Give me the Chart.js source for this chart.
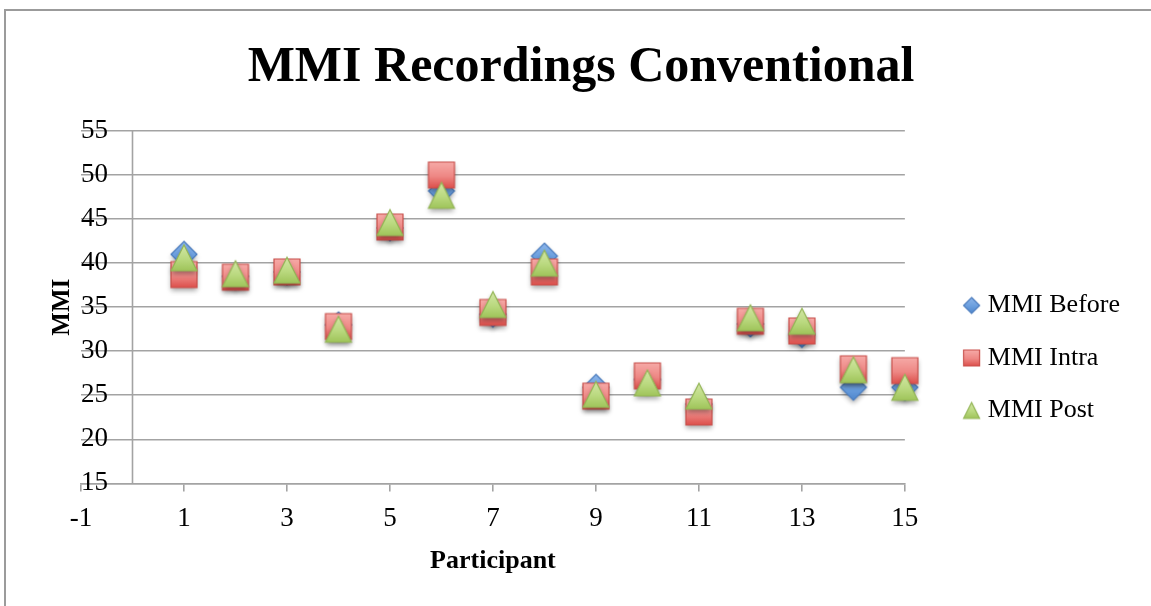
<!DOCTYPE html>
<html>
<head>
<meta charset="utf-8">
<title>MMI Recordings Conventional</title>
<script src="https://cdn.jsdelivr.net/npm/chart.js@4.4.1/dist/chart.umd.min.js"></script>
<style>
  html, body { margin: 0; padding: 0; background: #ffffff; }
  #wrap { position: relative; width: 1151px; height: 606px; overflow: hidden; }
  #frame {
    position: absolute; left: 4px; top: 9px; width: 1300px; height: 800px;
    border-left: 2px solid #9b9b9b; border-top: 2px solid #9b9b9b;
    pointer-events: none;
  }
  canvas { display: block; }
</style>
</head>
<body>
<div id="wrap">
  <canvas id="chart" width="1151" height="606"></canvas>
  <div id="frame"></div>
</div>
<script>
// Participant numbers and MMI readings per phase
const participants = [1, 2, 3, 4, 5, 6, 7, 8, 9, 10, 11, 12, 13, 14, 15];
const mmiBefore = [41.0, 38.5, 39.0, 33.0, 44.0, 48.2, 34.2, 40.8, 25.9, 26.8, 24.0, 33.1, 31.9, 25.9, 25.9];
const mmiIntra  = [38.7, 38.4, 39.0, 32.8, 44.1, 50.0, 34.4, 39.0, 24.9, 27.2, 23.1, 33.4, 32.3, 28.0, 27.8];
const mmiPost   = [40.6, 38.8, 39.2, 32.5, 44.6, 47.7, 35.3, 40.0, 25.1, 26.4, 24.9, 33.8, 33.4, 27.9, 25.9];

const seriesNames = ['MMI Before', 'MMI Intra', 'MMI Post'];
const xRange = [-1, 15];
const yRange = [15, 55];

const FONT = "'Liberation Serif', 'Times New Roman', serif";

// Marker artwork: gradient-filled shape with a thin outline and soft drop shadow
function makeMarker(shape, size, opts) {
  const pad = opts.shadow ? 8 : 2;
  const w = (opts.canvasWidth || size + pad * 2);
  const h = size + pad * 2;
  const c = document.createElement('canvas');
  c.width = w; c.height = h;
  const ctx = c.getContext('2d');
  const cx = opts.canvasWidth ? w - size / 2 - 1.5 : w / 2;
  const cy = h / 2;
  const s = size / 2;
  ctx.beginPath();
  if (shape === 'diamond') {
    ctx.moveTo(cx, cy - s); ctx.lineTo(cx + s, cy); ctx.lineTo(cx, cy + s); ctx.lineTo(cx - s, cy);
  } else if (shape === 'square') {
    ctx.rect(cx - s, cy - s, size, size);
  } else {
    ctx.moveTo(cx, cy - s); ctx.lineTo(cx + s, cy + s); ctx.lineTo(cx - s, cy + s);
  }
  ctx.closePath();
  const g = ctx.createLinearGradient(0, cy - s, 0, cy + s);
  g.addColorStop(0, opts.top);
  g.addColorStop(0.55, opts.mid);
  g.addColorStop(1, opts.bottom);
  ctx.save();
  if (opts.shadow) {
    ctx.shadowColor = 'rgba(0,0,0,0.35)';
    ctx.shadowBlur = 5;
    ctx.shadowOffsetY = 3;
  }
  ctx.fillStyle = g;
  ctx.fill();
  ctx.restore();
  ctx.lineWidth = 1.2;
  ctx.strokeStyle = opts.stroke;
  ctx.stroke();
  return c;
}

const palette = {
  diamond: { top: '#8db6ea', mid: '#6a9ede', bottom: '#4f86cc', stroke: '#4a7bbd' },
  square:  { top: '#f6aaa7', mid: '#ee8784', bottom: '#dc4f4b', stroke: '#c9504c' },
  triangle:{ top: '#d3e7a6', mid: '#bad97f', bottom: '#9fc45a', stroke: '#93b556' }
};
const shapes = ['diamond', 'square', 'triangle'];

const pointImages = shapes.map(k => makeMarker(k, 26, Object.assign({ shadow: true }, palette[k])));
const legendBoxWidth = 43.5;
const legendImages = shapes.map(k => makeMarker(k, 16, Object.assign({ shadow: false, canvasWidth: 56 }, palette[k])));

const seriesValues = [mmiBefore, mmiIntra, mmiPost];
const datasets = seriesValues.map((vals, i) => ({
  label: seriesNames[i],
  data: participants.map((p, j) => ({ x: p, y: vals[j] })),
  pointStyle: pointImages[i],
  showLine: false,
  clip: false,
  order: 3 - i
}));

// Vertical value axis drawn where x = 0
const axisAtZero = {
  id: 'axisAtZero',
  beforeDatasetsDraw(chart) {
    const { ctx, chartArea, scales } = chart;
    const x = Math.round(scales.x.getPixelForValue(0)) + 0.5;
    ctx.save();
    ctx.strokeStyle = '#a3a3a3';
    ctx.lineWidth = 1.6;
    ctx.beginPath();
    ctx.moveTo(x, chartArea.top);
    ctx.lineTo(x, chartArea.bottom);
    ctx.stroke();
    ctx.restore();
  }
};

new Chart(document.getElementById('chart'), {
  type: 'scatter',
  data: { datasets },
  plugins: [axisAtZero],
  options: {
    responsive: false,
    animation: false,
    layout: { padding: { left: 32, right: 21, top: 0, bottom: 0 } },
    elements: { point: { radius: 13, hoverRadius: 13 } },
    plugins: {
      tooltip: { enabled: false },
      title: {
        display: true,
        text: 'MMI Recordings Conventional',
        color: '#000000',
        font: { family: FONT, size: 50, weight: 'bold' },
        padding: { top: 38, bottom: 33 }
      },
      legend: {
        display: true,
        position: 'right',
        title: { display: true, text: '', font: { size: 10 }, padding: { top: 0, bottom: 98 } },
        labels: {
          usePointStyle: true,
          pointStyleWidth: legendBoxWidth,
          boxWidth: legendBoxWidth,
          color: '#000000',
          padding: 26.5,
          font: { family: FONT, size: 26 },
          generateLabels(chart) {
            return chart.data.datasets.map((ds, i) => ({
              text: ds.label,
              pointStyle: legendImages[i],
              fillStyle: 'transparent',
              strokeStyle: 'transparent',
              lineWidth: 0,
              hidden: false,
              datasetIndex: i,
              fontColor: '#000000'
            }));
          }
        }
      }
    },
    scales: {
      x: {
        type: 'linear',
        min: xRange[0],
        max: xRange[1],
        ticks: {
          stepSize: 2,
          color: '#000000',
          font: { family: FONT, size: 27 },
          padding: 11,
          maxRotation: 0
        },
        grid: { drawOnChartArea: false, drawTicks: true, tickLength: 8, color: '#a3a3a3', lineWidth: 1.6 },
        border: { display: true, color: '#a3a3a3', width: 1.6 },
        title: {
          display: true,
          text: 'Participant',
          color: '#000000',
          font: { family: FONT, size: 26, weight: 'bold' },
          padding: { top: 0, bottom: 29 }
        }
      },
      y: {
        type: 'linear',
        position: 'left',
        min: yRange[0],
        max: yRange[1],
        afterFit(scale) { scale.width = 49; },
        ticks: {
          stepSize: 5,
          mirror: true,
          color: '#000000',
          font: { family: FONT, size: 27 },
          padding: 0
        },
        grid: { drawTicks: false, color: '#a3a3a3', lineWidth: 1.6 },
        border: { display: false },
        title: {
          display: true,
          text: 'MMI',
          color: '#000000',
          font: { family: FONT, size: 25, weight: 'bold' },
          padding: { top: 16, bottom: 0 }
        }
      }
    }
  }
});
</script>
</body>
</html>
